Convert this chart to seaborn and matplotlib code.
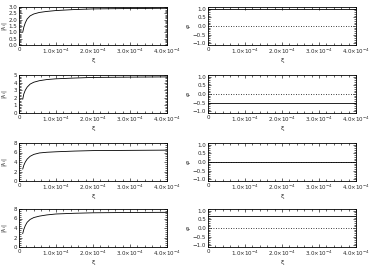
import numpy as np
import pandas as pd
import matplotlib
matplotlib.use("Agg")
import matplotlib.pyplot as plt
import seaborn as sns
from matplotlib.ticker import FixedLocator, AutoMinorLocator

sns.set_theme(style="ticks")
plt.rcParams['font.family'] = ['DejaVu Sans']

xi = [1.0e-5, 1.3e-5, 1.7e-5, 2.2e-5, 3.0e-5, 4.0e-5, 5.5e-5, 7.5e-5, 1.0e-4, 1.5e-4, 2.0e-4, 3.0e-4, 4.0e-4]
lam1 = [1.0, 1.4, 1.75, 2.05, 2.3, 2.45, 2.57, 2.65, 2.72, 2.8, 2.85, 2.88, 2.9]
lam2 = [1.8, 2.5, 3.0, 3.4, 3.8, 4.05, 4.25, 4.4, 4.5, 4.6, 4.68, 4.72, 4.75]
lam3 = [2.5, 3.3, 4.0, 4.6, 5.2, 5.6, 5.9, 6.05, 6.15, 6.3, 6.4, 6.45, 6.5]
lam4 = [2.8, 3.7, 4.5, 5.2, 5.8, 6.2, 6.5, 6.75, 6.95, 7.1, 7.2, 7.27, 7.3]
phi = [1.0, -0.5, 0.0, 0.7]
lam_ylim = [3.0, 5.0, 8.0, 8.0]
lam_ticks = [[0, 0.5, 1.0, 1.5, 2.0, 2.5, 3.0], [0, 1, 2, 3, 4, 5], [0, 2, 4, 6, 8], [0, 2, 4, 6, 8]]
lam_ticklabels = [["0.0", "0.5", "1.0", "1.5", "2.0", "2.5", "3.0"], ["0", "1", "2", "3", "4", "5"],
                  ["0", "2", "4", "6", "8"], ["0", "2", "4", "6", "8"]]
phi_ticks = [-1.0, -0.5, 0.0, 0.5, 1.0]
phi_ticklabels = ["\u22121.0", "\u22120.5", "0.0", "0.5", "1.0"]
x_ticks = [0, 1e-4, 2e-4, 3e-4, 4e-4]
x_ticklabels = ["0", r"1.0$\times$10$^{-4}$", r"2.0$\times$10$^{-4}$", r"3.0$\times$10$^{-4}$", r"4.0$\times$10$^{-4}$"]
lams = [lam1, lam2, lam3, lam4]

W, H = 373, 265
fig = plt.figure(figsize=(W / 100, H / 100), dpi=100)
fs = 4.0
bottoms = [45, 113, 181, 247]
ah = 38

def style(ax):
    ax.set_xlim(0, 4e-4)
    ax.xaxis.set_major_locator(FixedLocator(x_ticks))
    ax.set_xticklabels(x_ticklabels, fontsize=fs)
    ax.xaxis.set_minor_locator(AutoMinorLocator(5))
    ax.yaxis.set_minor_locator(AutoMinorLocator(5))
    ax.tick_params(which='both', direction='in', top=True, right=True, width=0.5, labelsize=fs, pad=1.5)
    ax.tick_params(which='major', length=2.5)
    ax.tick_params(which='minor', length=1.3)
    for s in ax.spines.values():
        s.set_linewidth(0.6)
        s.set_color('black')
    ax.set_xlabel("\u03be", fontsize=fs + 0.5)
    ax.xaxis.set_label_coords(0.5, -0.33)

for i in range(4):
    b = 1 - bottoms[i] / H
    axl = fig.add_axes([19 / W, b, 148 / W, ah / H])
    df = pd.DataFrame({"xi": xi, "lam": lams[i]})
    sns.lineplot(data=df, x="xi", y="lam", ax=axl, color="black", linewidth=0.6)
    axl.set_ylim(0, lam_ylim[i])
    axl.yaxis.set_major_locator(FixedLocator(lam_ticks[i]))
    axl.set_yticklabels(lam_ticklabels[i])
    style(axl)
    axl.set_ylabel(r"|$\lambda_i$|", fontsize=fs)
    axl.yaxis.set_label_coords(-0.066, 0.5)

    axr = fig.add_axes([208 / W, b, 148 / W, ah / H])
    dfr = pd.DataFrame({"xi": [0, 4e-4], "phi": [phi[i], phi[i]]})
    dfz = pd.DataFrame({"xi": [0, 4e-4], "phi": [0.0, 0.0]})
    sns.lineplot(data=dfz, x="xi", y="phi", ax=axr, color="black", linewidth=0.6, linestyle=(0, (1, 2)))
    sns.lineplot(data=dfr, x="xi", y="phi", ax=axr, color="black", linewidth=0.6)
    axr.set_ylim(-1.1, 1.1)
    axr.yaxis.set_major_locator(FixedLocator(phi_ticks))
    axr.set_yticklabels(phi_ticklabels)
    style(axr)
    axr.set_ylabel(r"$\varphi_i$", fontsize=fs)
    axr.yaxis.set_label_coords(-0.1, 0.5)

fig.savefig("out.png", dpi=100)
